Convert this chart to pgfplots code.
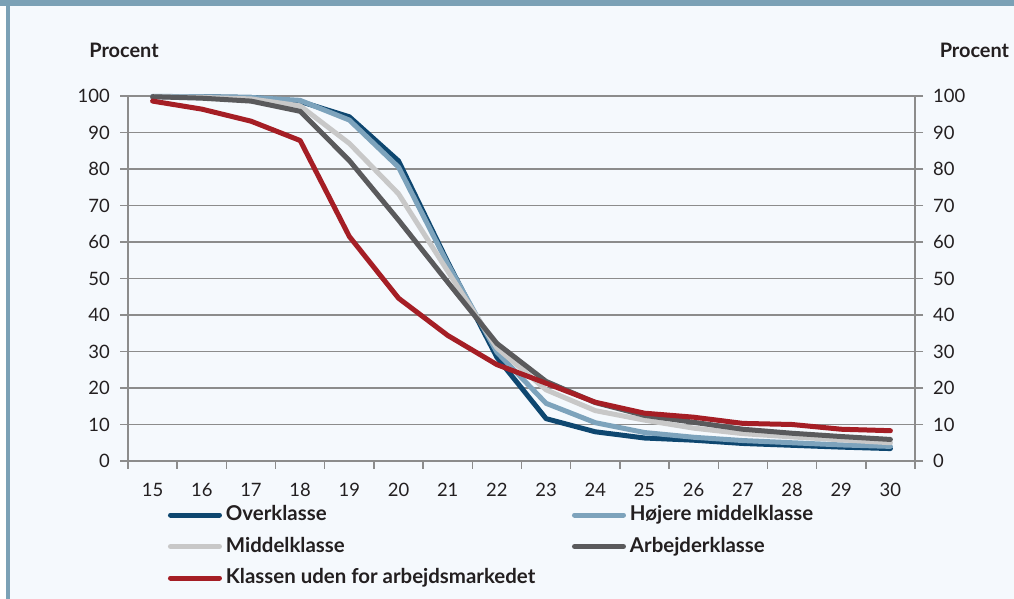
\documentclass[border=0pt]{standalone}
\usepackage{pgfplots}
\pgfplotsset{compat=1.18}
\usepackage{fontspec}
\setmainfont{Lato}
\definecolor{bg}{HTML}{F5F9FD}
\definecolor{frame}{HTML}{7BA1B6}
\definecolor{cnavy}{HTML}{0E4770}
\definecolor{clblue}{HTML}{7DA3BC}
\definecolor{clgray}{HTML}{C8C8C8}
\definecolor{cdgray}{HTML}{5A5A5C}
\definecolor{cred}{HTML}{A51E25}
\definecolor{axgray}{HTML}{8C8C8C}
\definecolor{txt}{HTML}{231F20}
\begin{document}
\begin{tikzpicture}[x=1bp,y=1bp]
\fill[bg] (0,0) rectangle (1014,599);
\fill[white] (0,0) rectangle (6,593);
\fill[frame] (6,0) rectangle (10,593);
\fill[frame] (0,593) rectangle (1014,599);
\pgfplotsset{
  common/.style={
    at={(128bp,138bp)}, anchor=south west,
    scale only axis, width=787bp, height=365bp,
    xmin=14.5, xmax=30.5, ymin=0, ymax=100,
    ytick={0,10,...,100},
    tick align=outside,
    axis line style={axgray, line width=1.6bp},
    major tick style={axgray, line width=1.4bp},
    major tick length=8bp,
    tick label style={font=\fontsize{18.5}{20}\selectfont, text=txt},
    /pgf/number format/assume math mode=true,
    clip=false,
  }
}
\begin{axis}[common,
  axis x line*=bottom, axis y line*=left,
  xtick={15,...,30},
  x tick style={draw=none},
  xticklabel style={inner sep=0pt, anchor=north, yshift=-14bp},
  yticklabel style={inner sep=0pt, anchor=east, xshift=-10bp},
  ymajorgrids, grid style={axgray, line width=1.4bp},
  every axis plot/.append style={line width=5bp, line cap=round, line join=round},
  legend columns=2,
  legend cell align=left,
  legend image code/.code={\draw[#1, line width=5bp, line cap=round] (2.5bp,0bp) -- (51.5bp,0bp);},
  legend style={draw=none, fill=none, at={(axis description cs:0.0508,-0.122)}, anchor=north west,
    inner sep=0pt, outer sep=0pt,
    nodes={inner sep=0pt, text height=15bp, text depth=4bp, text=txt},
    font=\bfseries\fontsize{20.5}{22}\selectfont,
    row sep=12.5bp,
    /tikz/every odd column/.append style={column sep=4bp}},
]
\addplot[cnavy] coordinates {(15,99.8)(16,99.8)(17,99.6)(18,98.5)(19,94.3)(20,82.2)(21,54.5)(22,28.4)(23,11.6)(24,8.0)(25,6.3)(26,5.7)(27,4.8)(28,4.3)(29,3.8)(30,3.4)};
\addlegendentry{\makebox[346bp][l]{Overklasse}}
\addplot[clblue] coordinates {(15,99.9)(16,99.8)(17,99.6)(18,98.8)(19,93.4)(20,80.5)(21,54)(22,29.8)(23,15.8)(24,10.5)(25,7.8)(26,6.5)(27,5.6)(28,5.0)(29,4.4)(30,4.0)};
\addlegendentry{Højere middelklasse}
\addplot[clgray] coordinates {(15,99.8)(16,99.6)(17,99.2)(18,97.3)(19,87)(20,73.2)(21,52)(22,31)(23,19.5)(24,13.8)(25,11.2)(26,9.0)(27,7.5)(28,6.6)(29,5.8)(30,5.0)};
\addlegendentry{\makebox[346bp][l]{Middelklasse}}
\addplot[cdgray] coordinates {(15,99.8)(16,99.4)(17,98.6)(18,95.8)(19,82.3)(20,66)(21,49)(22,32.2)(23,21.8)(24,16)(25,12.5)(26,10.6)(27,8.7)(28,7.6)(29,6.7)(30,5.9)};
\addlegendentry{Arbejderklasse}
\addplot[cred] coordinates {(15,98.6)(16,96.4)(17,93.1)(18,87.8)(19,61.5)(20,44.6)(21,34.4)(22,26.4)(23,21.3)(24,16.1)(25,13.1)(26,12.0)(27,10.3)(28,10.0)(29,8.7)(30,8.3)};
\addlegendentry{\makebox[346bp][l]{Klassen uden for arbejdsmarkedet}}
\node[font=\bfseries\fontsize{20}{22}\selectfont, text=txt] at (axis description cs:-0.005,1.126) {Procent};
\node[font=\bfseries\fontsize{20}{22}\selectfont, text=txt] at (axis description cs:1.0755,1.126) {Procent};
\end{axis}
\begin{axis}[common,
  axis x line*=bottom, axis y line*=right,
  xtick={14.5,15.5,...,30.5}, xticklabels={},
  yticklabel style={inner sep=0pt, anchor=west, xshift=10bp},
]
\end{axis}
\pgfresetboundingbox
\path[use as bounding box] (0,0) rectangle (1014,599);
\end{tikzpicture}
\end{document}
